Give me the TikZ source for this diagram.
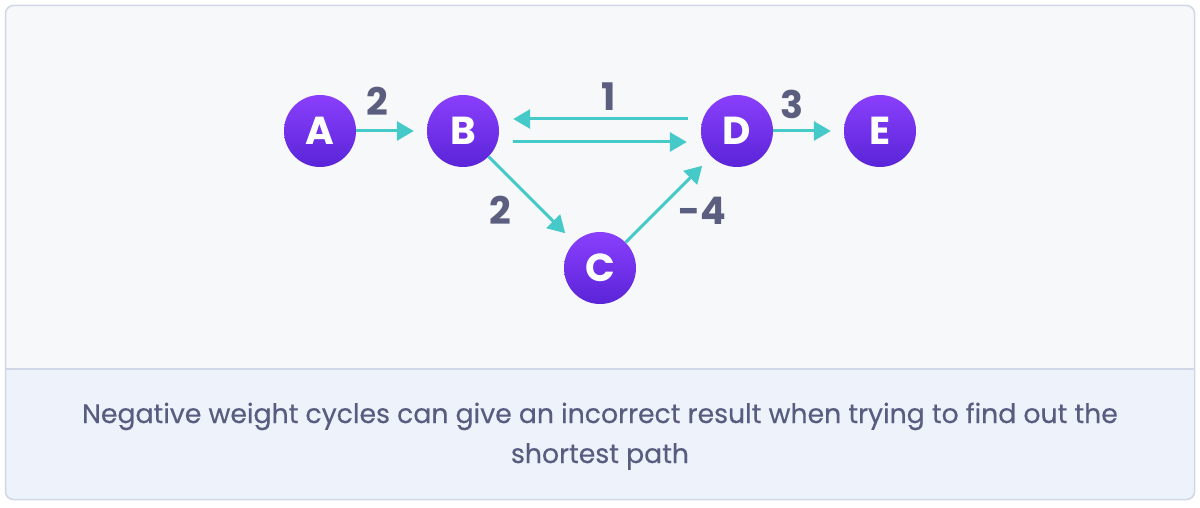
\documentclass[tikz,border=0pt]{standalone}
\usepackage{fontspec}
\setmainfont{Poppins}
\newfontfamily\capfont{Poppins}[FakeBold=0.4]
\usetikzlibrary{arrows.meta,calc}
\definecolor{bgc}{HTML}{F7F8FA}
\definecolor{capbg}{HTML}{EEF2FB}
\definecolor{borderc}{HTML}{D0D7E5}
\definecolor{edgec}{HTML}{45C9C9}
\definecolor{labc}{HTML}{5B5E7F}
\definecolor{captc}{HTML}{585C7F}
\definecolor{ntop}{HTML}{8A3FFC}
\definecolor{nbot}{HTML}{5A24D8}
\tikzset{
  vtx/.style={circle, minimum size=72pt, inner sep=0pt, top color=ntop, bottom color=nbot, draw=none,
    text=white, font=\fontsize{39}{39}\selectfont\bfseries},
  arr/.style={draw=edgec, line width=3pt, -{Triangle[length=17pt,width=19pt]}},
  wlab/.style={text=labc, font=\fontsize{38}{38}\selectfont\bfseries, inner sep=0pt},
  captxt/.style={text=captc, font=\capfont\fontsize{26.7}{32}\selectfont, anchor=base, inner sep=0pt},
}
\begin{document}
\begin{tikzpicture}[x=1pt,y=-1pt]
\useasboundingbox (0,0) rectangle (1200,508);
\fill[white] (0,0) rectangle (1200,508);
\path[fill=bgc, rounded corners=8pt] (5.5,5.5) rectangle (1194.5,499.5);
\begin{scope}
\clip[rounded corners=8pt] (5.5,5.5) rectangle (1194.5,499.5);
\fill[capbg] (5.5,369) rectangle (1194.5,499.5);
\end{scope}
\draw[borderc, line width=1.5pt] (5.5,369) -- (1194.5,369);
\draw[borderc, line width=1.5pt, rounded corners=8pt] (5.5,5.5) rectangle (1194.5,499.5);

\node[vtx] (A) at (320,131) {A};
\node[vtx] (B) at (463,131) {B};
\node[vtx] (C) at (600,268) {C};
\node[vtx] (D) at (737,131) {D};
\node[vtx] (E) at (880,131) {E};

\draw[arr, shorten >=13pt] (A) -- (B);
\draw[arr] ([xshift=-13pt,yshift=12pt]D.west) -- ([xshift=14pt,yshift=12pt]B.east);
\draw[arr] ([xshift=14pt,yshift=-11pt]B.east) -- ([xshift=-14pt,yshift=-11pt]D.west);
\draw[arr, shorten >=13pt] (D) -- (E);
\draw[arr, shorten >=13pt] (B) -- (C);
\draw[arr, shorten >=13pt] (C) -- (D);

\node[wlab] (l1) at (377,101) {2};
\node[wlab] (l2) at (609,97) {1};
\node[wlab] (l3) at (792,104) {3};
\node[wlab] (l4) at (500,210) {2};
\node[wlab] (l5) at (702,211) {-4};

\node[captxt] (cap1) at (600,423) {Negative weight cycles can give an incorrect result when trying to find out the};
\node[captxt] (cap2) at (600,463) {shortest path};
\end{tikzpicture}
\end{document}
